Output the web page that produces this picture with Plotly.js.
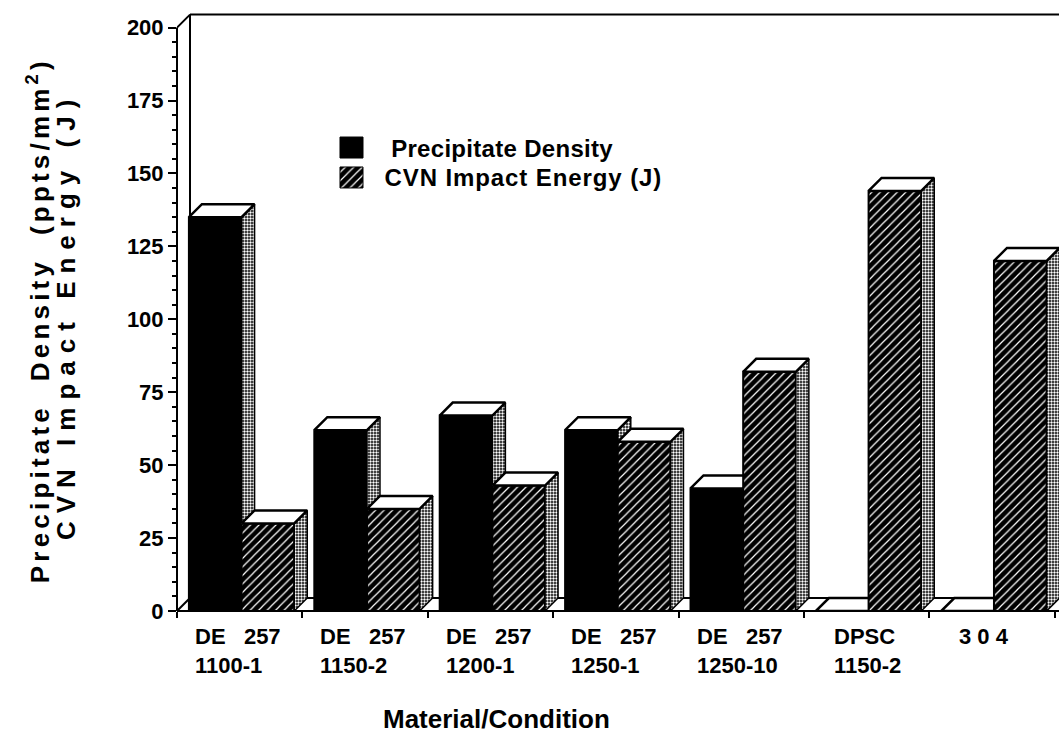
<!DOCTYPE html>
<html>
<head>
<meta charset="utf-8">
<script src="https://cdn.plot.ly/plotly-3.0.1.min.js"></script>
<style>
  html, body { margin: 0; padding: 0; background: #fff; }
  /* tracked lettering of the value-axis title and legend */
  g.annotation[data-index="10"] text { letter-spacing: 4.2px; }
  g.annotation[data-index="11"] text { letter-spacing: 8px; }
  g.annotation[data-index="7"] text { letter-spacing: 0.3px; }
  g.annotation[data-index="8"] text { letter-spacing: 0.9px; }
</style>
</head>
<body>
<div id="chart" style="width:1059px;height:734px"></div>
<script>
// ---- data -------------------------------------------------------------
const conditionLine1 = ["DE\u00A0\u00A0\u00A0257", "DE\u00A0\u00A0\u00A0257", "DE\u00A0\u00A0\u00A0257",
                        "DE\u00A0\u00A0\u00A0257", "DE\u00A0\u00A0\u00A0257", "DPSC", "3 0 4"];
const conditionLine2 = ["1100-1", "1150-2", "1200-1", "1250-1", "1250-10", "1150-2", ""];
const precipitateDensity = [135, 62, 67, 62, 42, 0, 0];
const cvnImpactEnergy = [30, 35, 43, 58, 82, 144, 120];
const seriesNames = ["Precipitate Density", "CVN Impact Energy (J)"];
const yTickValues = [0, 25, 50, 75, 100, 125, 150, 175, 200];

// ---- frame geometry ---------------------------------------------------
const FIG_W = 1059, FIG_H = 734;
const M = { l: 177, r: 0, t: 13, b: 123, pad: 0 };
const PW = FIG_W - M.l - M.r, PH = FIG_H - M.t - M.b;
const CAT_PX = 125.4;                         // pixels per category slot
const X_RANGE = [-0.5, -0.5 + PW / CAT_PX];
const Y_RANGE = [0, 205];
const DEPTH_PX = 13;                          // oblique depth of the 3-D boxes
const DX = DEPTH_PX / CAT_PX;
const DY = DEPTH_PX * (Y_RANGE[1] - Y_RANGE[0]) / PH;
const BAR_START = -0.405, BAR_W = 0.42;
const Y_TOP = 200;

const FONT = "Liberation Sans, Arial, Helvetica, sans-serif";

// ---- 3-D box faces ----------------------------------------------------
function addPoly(acc, xs, ys) {
  xs.forEach((x, j) => { acc.x.push(x); acc.y.push(ys[j]); });
  acc.x.push(xs[0]); acc.y.push(ys[0]);
  acc.x.push(null); acc.y.push(null);
}

function boxFaces(values, slot) {
  const front = { x: [], y: [] }, side = { x: [], y: [] }, top = { x: [], y: [] };
  values.forEach((v, i) => {
    const x0 = i + BAR_START + slot * BAR_W, x1 = x0 + BAR_W;
    addPoly(front, [x0, x0, x1, x1], [0, v, v, 0]);
    addPoly(side, [x1, x1, x1 + DX, x1 + DX], [0, v, v + DY, DY]);
    addPoly(top, [x0, x0 + DX, x1 + DX, x1], [v, v + DY, v + DY, v]);
  });
  return { front, side, top };
}

const hatch = { shape: "/", bgcolor: "#000", fgcolor: "#fff", size: 6, solidity: 0.2, fillmode: "replace" };
const dots = { shape: ".", bgcolor: "#000", fgcolor: "#fff", size: 3, solidity: 0.5, fillmode: "replace" };

function polyTrace(pts, style) {
  return Object.assign({
    type: "scatter", mode: "lines", x: pts.x, y: pts.y,
    fill: "toself", hoverinfo: "skip", showlegend: false,
    line: { color: "#000", width: 2 }
  }, style);
}

const traces = [];
[[precipitateDensity, 0, { fillcolor: "#000" }], [cvnImpactEnergy, 1, { fillcolor: "#000", fillpattern: hatch }]]
  .forEach(([vals, slot, frontStyle], s) => {
    const f = boxFaces(vals, slot);
    traces.push(polyTrace(f.front, Object.assign({ name: seriesNames[s] }, frontStyle)));
    traces.push(polyTrace(f.side, { fillcolor: "#000", fillpattern: dots, line: { color: "#000", width: 1.5 } }));
    traces.push(polyTrace(f.top, { fillcolor: "#fff", line: { color: "#000", width: 2.5 } }));
  });

// ---- legend swatches (plot-area fractions on an overlay axis pair) ----
function swatch(x0, x1, y0, y1, style) {
  return Object.assign({
    type: "scatter", mode: "lines", xaxis: "x2", yaxis: "y2",
    x: [x0, x0, x1, x1, x0], y: [y0, y1, y1, y0, y0],
    fill: "toself", hoverinfo: "skip", showlegend: false,
    line: { color: "#000", width: 1 }
  }, style);
}
traces.push(swatch(0.1848, 0.2109, 0.7575, 0.7926, { fillcolor: "#000" }));
traces.push(swatch(0.1848, 0.2109, 0.7074, 0.7425, { fillcolor: "#000", fillpattern: hatch }));

// ---- axes, walls, labels ---------------------------------------------
const catEdges = conditionLine1.map((_, i) => i - 0.5).concat([conditionLine1.length - 0.5]);
const minorY = [];
for (let v = 0; v <= Y_TOP; v += 5) if (v % 25 !== 0) minorY.push(v);

const wall = { color: "#000", width: 2 };
const shapes = [
  // back wall edge, top rim and floor
  { type: "line", xref: "x", yref: "y", x0: -0.5 + DX, x1: -0.5 + DX, y0: DY, y1: Y_TOP + DY, line: wall, layer: "below" },
  { type: "line", xref: "x", yref: "y", x0: -0.5, x1: -0.5 + DX, y0: Y_TOP, y1: Y_TOP + DY, line: wall, layer: "below" },
  { type: "line", xref: "x", yref: "y", x0: -0.5 + DX, x1: X_RANGE[1], y0: Y_TOP + DY, y1: Y_TOP + DY, line: wall, layer: "below" },
  { type: "line", xref: "x", yref: "y", x0: -0.5 + DX, x1: X_RANGE[1], y0: DY, y1: DY, line: wall, layer: "below" },
  { type: "line", xref: "x", yref: "y", x0: -0.5, x1: -0.5 + DX, y0: 0, y1: DY, line: wall, layer: "below" },
  // front value axis and front floor edge
  { type: "line", xref: "paper", yref: "y", x0: 0, x1: 0, y0: 0, y1: Y_TOP, line: wall, layer: "above" },
  { type: "line", xref: "paper", yref: "paper", x0: 0, x1: 1, y0: 0, y1: 0, line: wall, layer: "above" }
];

const labelFont = { family: FONT, size: 22, color: "#000", weight: 700 };
const annotations = conditionLine1.map((l1, i) => ({
  xref: "x", yref: "paper", x: i - 0.5, y: 0,
  xanchor: "left", yanchor: "top", xshift: i < 5 ? 16 : 28, yshift: -11,
  align: "left", showarrow: false,
  text: conditionLine2[i] ? l1 + "<br>" + conditionLine2[i] : l1,
  font: labelFont
}));

const legendFont = { family: FONT, size: 24, color: "#000", weight: 700 };
annotations.push({ xref: "paper", yref: "paper", x: 0.2438, y: 0.7742, xanchor: "left", yanchor: "middle",
  showarrow: false, text: seriesNames[0], font: legendFont });
annotations.push({ xref: "paper", yref: "paper", x: 0.2438, y: 0.7241, xanchor: "left", yanchor: "middle",
  showarrow: false, text: seriesNames[1], font: legendFont });

const titleFont = { family: FONT, size: 26, color: "#000", weight: 700 };
annotations.push({ xref: "paper", yref: "paper", x: (496 - M.l) / PW, y: -(719 - (M.t + PH)) / PH,
  xanchor: "center", yanchor: "middle", showarrow: false, text: "Material/Condition", font: titleFont });
annotations.push({ xref: "paper", yref: "paper", x: (38 - M.l) / PW, y: (M.t + PH - 320) / PH,
  xanchor: "center", yanchor: "middle", textangle: -90, showarrow: false,
  text: "Precipitate\u00A0\u00A0Density\u00A0\u00A0(ppts/mm<sup>2</sup>)", font: { family: FONT, size: 26, color: "#000", weight: 700 } });
annotations.push({ xref: "paper", yref: "paper", x: (66 - M.l) / PW, y: (M.t + PH - 316) / PH,
  xanchor: "center", yanchor: "middle", textangle: -90, showarrow: false,
  text: "CVN Impact Energy (J)", font: { family: FONT, size: 26, color: "#000", weight: 700 } });

const layout = {
  width: FIG_W, height: FIG_H, margin: M,
  paper_bgcolor: "#fff", plot_bgcolor: "#fff",
  showlegend: false,
  font: { family: FONT, color: "#000" },
  xaxis: {
    range: X_RANGE, showgrid: false, zeroline: false, showline: false, fixedrange: true,
    tickmode: "array", tickvals: catEdges, showticklabels: false,
    ticks: "outside", ticklen: 6, tickwidth: 2, tickcolor: "#000"
  },
  yaxis: {
    range: Y_RANGE, showgrid: false, zeroline: false, showline: false, fixedrange: true,
    tickmode: "array", tickvals: yTickValues, ticktext: yTickValues.map(String),
    ticks: "outside", ticklen: 8, tickwidth: 2, tickcolor: "#000",
    tickfont: { family: FONT, size: 22, color: "#000", weight: 700 },
    minor: { tickmode: "array", tickvals: minorY, ticks: "outside", ticklen: 4, tickwidth: 2, tickcolor: "#000", showgrid: false }
  },
  xaxis2: { overlaying: "x", range: [0, 1], visible: false, fixedrange: true },
  yaxis2: { overlaying: "y", range: [0, 1], visible: false, fixedrange: true },
  shapes: shapes,
  annotations: annotations
};

Plotly.newPlot("chart", traces, layout, { staticPlot: true, displayModeBar: false });
</script>
</body>
</html>
